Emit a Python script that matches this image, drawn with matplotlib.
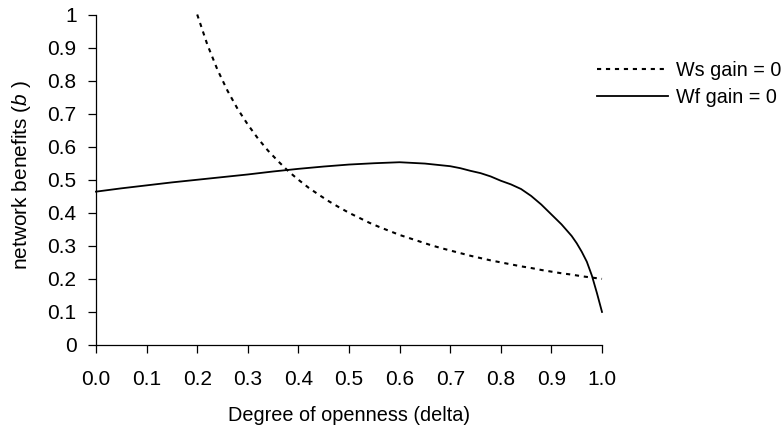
import matplotlib
matplotlib.use("Agg")
import matplotlib.pyplot as plt
from matplotlib.ticker import FixedLocator, FixedFormatter

plt.rcParams['font.family'] = ['Liberation Sans', 'DejaVu Sans']
plt.rcParams['mathtext.fontset'] = 'custom'
plt.rcParams['mathtext.rm'] = 'Liberation Sans'
plt.rcParams['mathtext.it'] = 'Liberation Sans:italic'

# ---- data ----
ws_delta = [0.20, 0.22, 0.24, 0.26, 0.28, 0.30, 0.32, 0.34, 0.36, 0.38,
            0.40, 0.42, 0.44, 0.46, 0.48, 0.50, 0.52, 0.54, 0.56, 0.58,
            0.60, 0.62, 0.64, 0.66, 0.68, 0.70, 0.72, 0.74, 0.76, 0.78,
            0.80, 0.82, 0.84, 0.86, 0.88, 0.90, 0.92, 0.94, 0.96, 0.98, 1.00]
ws_b = [1.000, 0.909, 0.833, 0.769, 0.714, 0.667, 0.625, 0.588, 0.556, 0.526,
        0.500, 0.476, 0.455, 0.435, 0.417, 0.400, 0.385, 0.370, 0.357, 0.345,
        0.333, 0.323, 0.313, 0.303, 0.294, 0.286, 0.278, 0.270, 0.263, 0.256,
        0.250, 0.244, 0.238, 0.233, 0.227, 0.222, 0.217, 0.213, 0.208, 0.204, 0.200]

wf_delta = [0.00, 0.05, 0.10, 0.15, 0.20, 0.25, 0.30, 0.35, 0.40, 0.45,
            0.50, 0.55, 0.60, 0.65, 0.70, 0.72, 0.74, 0.76, 0.78, 0.80,
            0.82, 0.84, 0.86, 0.88, 0.90, 0.92, 0.94, 0.95, 0.96, 0.97,
            0.98, 0.99, 1.00]
wf_b = [0.464, 0.474, 0.483, 0.492, 0.500, 0.508, 0.516, 0.525, 0.533, 0.540,
        0.546, 0.550, 0.553, 0.549, 0.541, 0.535, 0.527, 0.520, 0.510, 0.497,
        0.486, 0.472, 0.451, 0.425, 0.395, 0.365, 0.330, 0.308, 0.282, 0.252,
        0.210, 0.157, 0.100]

x_ticks = [0.0, 0.1, 0.2, 0.3, 0.4, 0.5, 0.6, 0.7, 0.8, 0.9, 1.0]
x_labels = ["0.0", "0.1", "0.2", "0.3", "0.4", "0.5", "0.6", "0.7", "0.8", "0.9", "1.0"]
y_ticks = [0.0, 0.1, 0.2, 0.3, 0.4, 0.5, 0.6, 0.7, 0.8, 0.9, 1.0]
y_labels = ["0", "0.1", "0.2", "0.3", "0.4", "0.5", "0.6", "0.7", "0.8", "0.9", "1"]

fig = plt.figure(figsize=(7.81, 4.33), dpi=100)
ax = fig.add_axes([96 / 781, 1 - 345 / 433, 506 / 781, 330.5 / 433])

ax.plot(ws_delta, ws_b, color='black', lw=1.5, linestyle=(0, (2, 2.3)),
        label='Ws gain = 0', clip_on=False)
ax.plot(wf_delta, wf_b, color='black', lw=1.3, linestyle='-',
        label='Wf gain = 0', clip_on=False)

ax.set_xlim(0, 1)
ax.set_ylim(0, 1)
ax.xaxis.set_major_locator(FixedLocator(x_ticks))
ax.xaxis.set_major_formatter(FixedFormatter(x_labels))
ax.yaxis.set_major_locator(FixedLocator(y_ticks))
ax.yaxis.set_major_formatter(FixedFormatter(y_labels))

for s in ['top', 'right']:
    ax.spines[s].set_visible(False)
for s in ['left', 'bottom']:
    ax.spines[s].set_linewidth(0.9)
    ax.spines[s].set_color('black')

ax.tick_params(axis='x', direction='out', length=6, width=0.9, pad=12, labelsize=15)
ax.tick_params(axis='y', direction='out', length=6, width=0.9, pad=8, labelsize=15)

ax.set_xlabel('Degree of openness (delta)', fontsize=14.3)
ax.xaxis.set_label_coords(0.5, -0.186)
ax.set_ylabel('network benefits ($\\it{b}$ )', fontsize=15)
ax.yaxis.set_label_coords(-0.124, 0.513)

leg = ax.legend(loc='center left', bbox_to_anchor=(597 / 781, 1 - 84 / 433),
                bbox_transform=fig.transFigure, frameon=False, fontsize=14.2,
                handlelength=3.6, handletextpad=0.4, labelspacing=0.42,
                borderpad=0, borderaxespad=0)

fig.savefig('out.png', dpi=100)
